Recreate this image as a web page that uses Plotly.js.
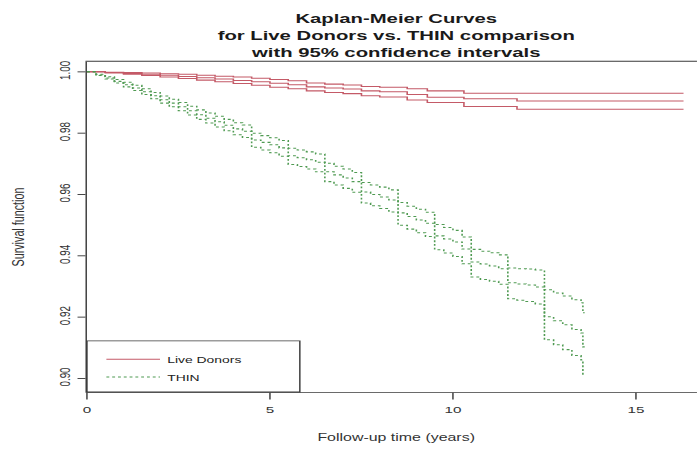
<!DOCTYPE html>
<html>
<head>
<meta charset="utf-8">
<script src="https://cdn.plot.ly/plotly-3.0.1.min.js"></script>
<style>
  html, body { margin: 0; padding: 0; overflow: hidden; background: #ffffff; }
  /* the figure is laid out on a 481x480 canvas and stretched to the 697x449 frame */
  #chart { width: 481px; height: 480px; transform: scale(1.449, 0.9354); transform-origin: 0 0; }
</style>
</head>
<body>
<div id="chart"></div>
<script>
// Kaplan-Meier estimates (years of follow-up, survival probability) with 95% CI
const donorTime  = [0, 0.5, 1, 1.5, 2, 2.5, 3, 3.5, 4, 4.5, 5, 5.5, 6, 6.5, 7, 7.5, 8, 8.75, 9.3, 10.3, 11.75, 16.3];
const donorSurv  = [1.0, 0.9998, 0.9995, 0.9992, 0.9989, 0.9985, 0.9981, 0.9977, 0.9972, 0.9968, 0.9963, 0.9958, 0.9951, 0.9947, 0.9944, 0.9938, 0.9935, 0.9926, 0.9917, 0.9912, 0.9905, 0.9905];
const donorUpper = [1.0, 0.9999, 0.9998, 0.9996, 0.9994, 0.9992, 0.9989, 0.9986, 0.9983, 0.9979, 0.9975, 0.9971, 0.9964, 0.9960, 0.9957, 0.9952, 0.9950, 0.9945, 0.9938, 0.9930, 0.9930, 0.9930];
const donorLower = [1.0, 0.9996, 0.9992, 0.9988, 0.9983, 0.9978, 0.9973, 0.9968, 0.9962, 0.9956, 0.9950, 0.9945, 0.9938, 0.9933, 0.9929, 0.9922, 0.9918, 0.9908, 0.9900, 0.9887, 0.9878, 0.9878];

const thinTime = [0, 0.25, 0.5, 0.75, 1, 1.25, 1.5, 1.75, 2, 2.25, 2.5, 2.75, 3, 3.25, 3.5, 3.75, 4, 4.25,
  4.5, 4.75, 5, 5.25, 5.5, 5.75, 6, 6.25, 6.5, 6.75, 7, 7.25, 7.5, 7.75, 8, 8.25, 8.5, 8.75, 9, 9.25,
  9.5, 9.75, 10, 10.25, 10.5, 10.75, 11, 11.25, 11.5, 11.75, 12, 12.25, 12.5, 12.75, 13, 13.25, 13.5, 13.55, 13.6];
const thinSurv = [1.0000, 0.9990, 0.9980, 0.9969, 0.9958, 0.9947, 0.9935, 0.9922, 0.9909, 0.9898, 0.9886, 0.9873,
  0.9860, 0.9849, 0.9837, 0.9826, 0.9814, 0.9806, 0.9778, 0.9770, 0.9762, 0.9752, 0.9726, 0.9720, 0.9713,
  0.9705, 0.9674, 0.9664, 0.9654, 0.9642, 0.9608, 0.9600, 0.9592, 0.9582, 0.9540, 0.9528, 0.9517, 0.9506,
  0.9465, 0.9455, 0.9445, 0.9422, 0.9380, 0.9373, 0.9367, 0.9358, 0.9312, 0.9308, 0.9305, 0.9298, 0.9201,
  0.9188, 0.9175, 0.9160, 0.9148, 0.9103, 0.9103];
const thinUpper = [1.0000, 0.9992, 0.9984, 0.9975, 0.9966, 0.9956, 0.9945, 0.9933, 0.9921, 0.9911, 0.9900, 0.9888,
  0.9876, 0.9866, 0.9855, 0.9845, 0.9834, 0.9827, 0.9800, 0.9792, 0.9785, 0.9776, 0.9751, 0.9745, 0.9739,
  0.9732, 0.9702, 0.9692, 0.9683, 0.9672, 0.9639, 0.9631, 0.9624, 0.9615, 0.9574, 0.9562, 0.9552, 0.9542,
  0.9502, 0.9492, 0.9483, 0.9461, 0.9421, 0.9415, 0.9410, 0.9403, 0.9360, 0.9358, 0.9357, 0.9354, 0.9289,
  0.9279, 0.9269, 0.9257, 0.9247, 0.9214, 0.9214];
const thinLower = [1.0000, 0.9988, 0.9977, 0.9964, 0.9951, 0.9939, 0.9926, 0.9912, 0.9898, 0.9886, 0.9873, 0.9859,
  0.9845, 0.9833, 0.9820, 0.9808, 0.9795, 0.9786, 0.9754, 0.9745, 0.9736, 0.9725, 0.9698, 0.9691, 0.9683,
  0.9674, 0.9642, 0.9631, 0.9620, 0.9607, 0.9572, 0.9563, 0.9554, 0.9543, 0.9500, 0.9487, 0.9475, 0.9463,
  0.9420, 0.9409, 0.9398, 0.9374, 0.9331, 0.9323, 0.9317, 0.9307, 0.9260, 0.9255, 0.9251, 0.9243, 0.9126,
  0.9110, 0.9094, 0.9075, 0.9060, 0.9011, 0.9011];

const groupNames = ['Live Donors', 'THIN'];
const xTicks = [0, 5, 10, 15];
const yTicks = [0.90, 0.92, 0.94, 0.96, 0.98, 1.00];

const FONT = 'Liberation Sans, Arial, Helvetica, sans-serif';
const RED = '#c45a67';
const GREEN = '#4f9a52';

function step(x, y, name, color, dash, inLegend) {
  return {
    type: 'scatter', mode: 'lines', x: x, y: y, name: name,
    line: { shape: 'hv', color: color, width: 1.1, dash: dash },
    showlegend: inLegend, legendgroup: name, hoverinfo: 'skip'
  };
}

const traces = [
  step(donorTime, donorSurv, groupNames[0], RED, 'solid', true),
  step(donorTime, donorUpper, groupNames[0], RED, 'solid', false),
  step(donorTime, donorLower, groupNames[0], RED, 'solid', false),
  step(thinTime, thinSurv, groupNames[1], GREEN, '2px,2px', true),
  step(thinTime, thinUpper, groupNames[1], GREEN, '2px,2px', false),
  step(thinTime, thinLower, groupNames[1], GREEN, '2px,2px', false)
];

const axisCommon = {
  showgrid: false, zeroline: false, showline: true, linecolor: '#3a3a3a', linewidth: 1,
  ticks: 'outside', tickcolor: '#3a3a3a', tickwidth: 1,
  tickfont: { family: FONT, size: 10.5, color: '#333333' }
};

const layout = {
  width: 481, height: 480,
  margin: { l: 60, r: 0, t: 66, b: 61, pad: 0 },
  paper_bgcolor: '#ffffff', plot_bgcolor: '#ffffff',
  title: {
    text: 'Kaplan-Meier Curves<br>for Live Donors vs. THIN comparison<br>with 95% confidence intervals',
    font: { family: FONT, size: 14, weight: 'bold', color: '#1a1a1a' },
    xref: 'paper', x: 0.507, xanchor: 'center',
    yref: 'container', y: 0.948, yanchor: 'top'
  },
  xaxis: Object.assign({}, axisCommon, {
    range: [0, 16.667], tickmode: 'array', tickvals: xTicks, ticktext: xTicks.map(String),
    ticklen: 7, mirror: true, ticklabelstandoff: 2
  }),
  yaxis: Object.assign({}, axisCommon, {
    range: [0.8956, 1.0033], tickmode: 'array', tickvals: yTicks,
    ticktext: yTicks.map(v => v.toFixed(2)), tickangle: -90,
    ticklen: 5.5, mirror: false, ticklabelstandoff: 1
  }),
  showlegend: true,
  legend: {
    x: 0.02, xanchor: 'left', y: 0.14, yanchor: 'top',
    bgcolor: 'rgba(0,0,0,0)', borderwidth: 0, itemwidth: 37,
    font: { family: FONT, size: 9.6, color: '#222222' }, tracegroupgap: 0
  },
  shapes: [{
    type: 'rect', xref: 'paper', yref: 'paper', x0: 0, x1: 0.349, y0: 0, y1: 0.1547,
    line: { color: '#3a3a3a', width: 1 }, fillcolor: 'rgba(0,0,0,0)', layer: 'above'
  }],
  annotations: [
    { text: 'Survival function', textangle: -90, xref: 'paper', yref: 'paper', x: 0, y: 0.5,
      xanchor: 'center', yanchor: 'middle', xshift: -47.6, showarrow: false,
      font: { family: FONT, size: 11.5, color: '#333333' } },
    { text: 'Follow-up time (years)', xref: 'paper', yref: 'paper', x: 0.508, y: 0,
      xanchor: 'center', yanchor: 'middle', yshift: -48, showarrow: false,
      font: { family: FONT, size: 11, color: '#333333' } }
  ]
};

Plotly.newPlot('chart', traces, layout, { displayModeBar: false, staticPlot: true });
</script>
</body>
</html>
